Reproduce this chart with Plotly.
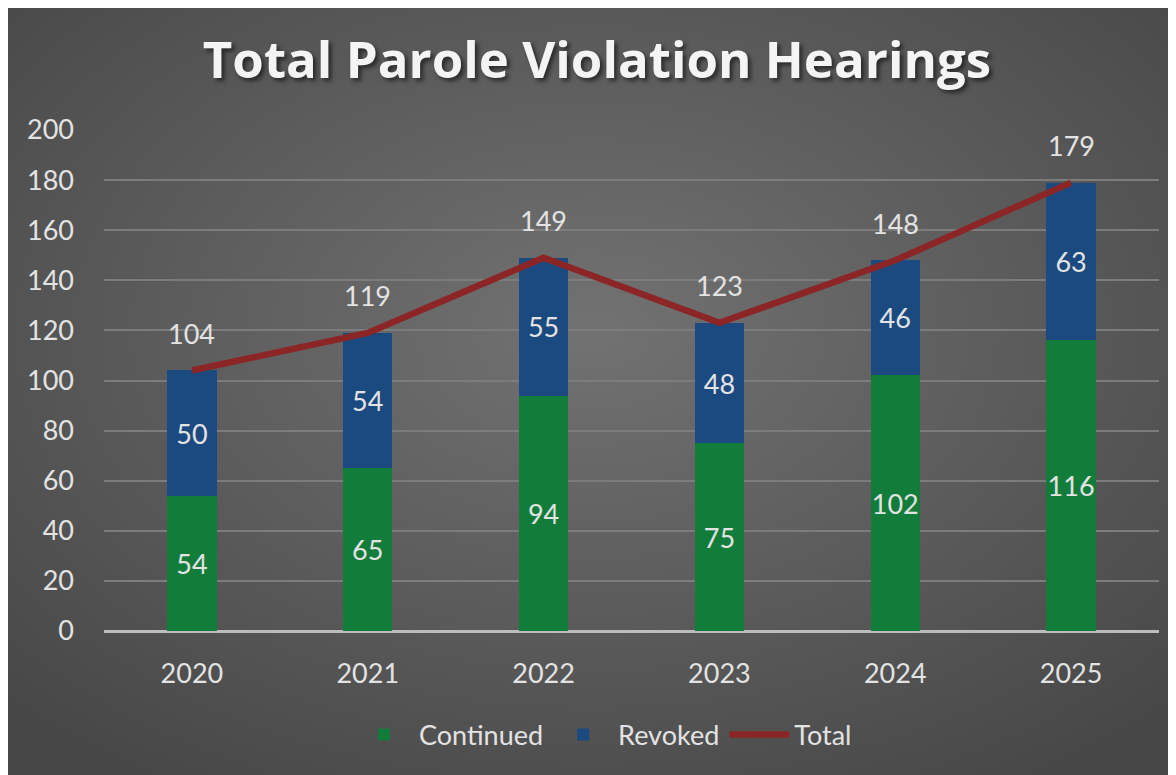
import base64
import plotly.graph_objects as go

# data
years = ["2020", "2021", "2022", "2023", "2024", "2025"]
continued = [54, 65, 94, 75, 102, 116]
revoked = [50, 54, 55, 48, 46, 63]
total = [104, 119, 149, 123, 148, 179]

# the page body adds an 8px offset, so the figure is 8px smaller each way
W, H = 1168, 767
ML, MR, MT, MB = 96, 17, 122, 144
plot_w = W - ML - MR
plot_h = H - MT - MB

# dark radial backdrop like the office chart style
svg = """<svg xmlns='http://www.w3.org/2000/svg' width='1168' height='767' preserveAspectRatio='none'>
<defs><radialGradient id='g' cx='50%' cy='42%' r='70%'>
<stop offset='0%' stop-color='#727272'/><stop offset='100%' stop-color='#474747'/>
</radialGradient></defs><rect width='100%' height='100%' fill='url(#g)'/></svg>"""
bg_src = "data:image/svg+xml;base64," + base64.b64encode(svg.encode()).decode()

font = "Lato, 'Open Sans', sans-serif"
txt_col = "#e3e3e3"
fs = 27

fig = go.Figure()

fig.add_trace(go.Bar(
    x=years, y=continued, name="Continued",
    marker=dict(color="#127d3b", line=dict(width=0)),
    text=continued, textposition="inside", insidetextanchor="middle",
    textangle=0, textfont=dict(size=fs, color=txt_col, family=font),
    width=0.28,
))
fig.add_trace(go.Bar(
    x=years, y=revoked, name="Revoked",
    marker=dict(color="#1a4a80", line=dict(width=0)),
    text=revoked, textposition="inside", insidetextanchor="middle",
    textangle=0, textfont=dict(size=fs, color=txt_col, family=font),
    width=0.28,
))
fig.add_trace(go.Scatter(
    x=years, y=total, name="Total", mode="lines",
    line=dict(color="#8c2626", width=6.5),
))

# total labels above the line points (category index, "2020" would be read as an index)
for i, t in enumerate(total):
    fig.add_annotation(x=i, y=t, text=str(t), showarrow=False,
                       yshift=37, font=dict(size=fs, color=txt_col, family=font))

fig.add_layout_image(dict(
    source=bg_src, xref="paper", yref="paper",
    x=-ML / plot_w, y=(H - MB) / plot_h,
    sizex=W / plot_w, sizey=H / plot_h,
    xanchor="left", yanchor="top", sizing="stretch", layer="below",
))

fig.update_layout(
    width=W, height=H,
    margin=dict(l=ML, r=MR, t=MT, b=MB),
    barmode="stack",
    paper_bgcolor="#5a5a5a",
    plot_bgcolor="rgba(0,0,0,0)",
    title=dict(
        text="<b>Total Parole Violation Hearings</b>",
        x=589 / W, xanchor="center", xref="container",
        y=1 - 52 / H, yanchor="middle", yref="container",
        font=dict(size=51, color="#f4f4f4", family="'Open Sans', sans-serif",
                  shadow="3px 3px 4px rgba(0,0,0,0.55)"),
    ),
    legend=dict(
        orientation="h", xref="container", yref="container",
        x=595 / W, xanchor="center", y=1 - 727 / H, yanchor="middle",
        font=dict(size=fs, color=txt_col, family=font),
        bgcolor="rgba(0,0,0,0)", itemwidth=60, traceorder="normal",
    ),
    uniformtext=dict(minsize=fs, mode="show"),
    xaxis=dict(
        type="category", range=[-0.5, len(years) - 0.5],
        showgrid=False, showline=False, zeroline=False,
        tickfont=dict(size=fs, color=txt_col, family=font),
        ticklabelstandoff=24,
    ),
    yaxis=dict(
        range=[0, 200], dtick=20,
        gridcolor="#7c7c7c", gridwidth=1.5,
        zeroline=True, zerolinecolor="#bcbcbc", zerolinewidth=2.5,
        tickfont=dict(size=fs, color=txt_col, family=font),
        ticklabelstandoff=29,
    ),
)

fig.write_html("out.html")
